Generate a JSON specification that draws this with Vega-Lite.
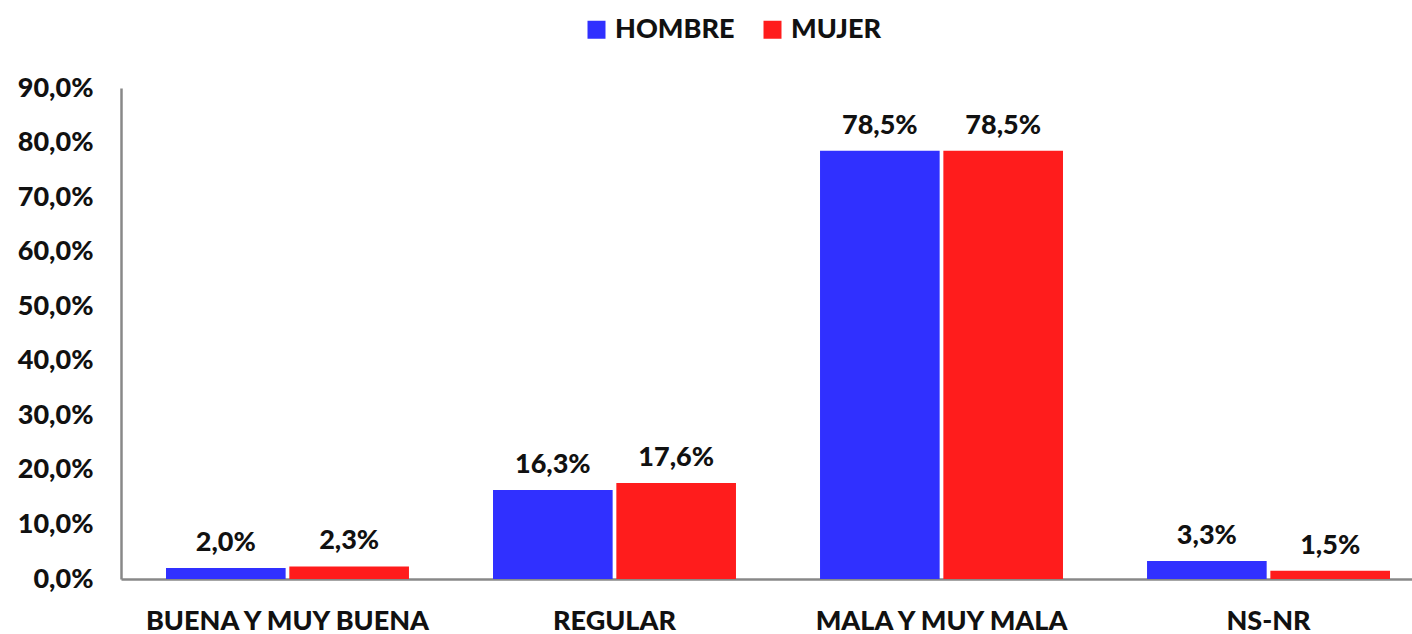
{
  "$schema": "https://vega.github.io/schema/vega-lite/v6.json",
  "autosize": {"type": "none"},
  "width": 1314,
  "height": 491,
  "padding": {"left": 121, "top": 88, "right": 0, "bottom": 55},
  "config": {
    "locale": {"number": {"decimal": ",", "thousands": ".", "grouping": [3], "currency": ["", " €"]}},
    "view": {"stroke": null},
    "font": "Lato"
  },
  "data": {
    "values": [
      {"categoria": "BUENA Y MUY BUENA", "sexo": "HOMBRE", "valor": 0.020},
      {"categoria": "BUENA Y MUY BUENA", "sexo": "MUJER", "valor": 0.023},
      {"categoria": "REGULAR", "sexo": "HOMBRE", "valor": 0.163},
      {"categoria": "REGULAR", "sexo": "MUJER", "valor": 0.176},
      {"categoria": "MALA Y MUY MALA", "sexo": "HOMBRE", "valor": 0.785},
      {"categoria": "MALA Y MUY MALA", "sexo": "MUJER", "valor": 0.785},
      {"categoria": "NS-NR", "sexo": "HOMBRE", "valor": 0.033},
      {"categoria": "NS-NR", "sexo": "MUJER", "valor": 0.015}
    ]
  },
  "encoding": {
    "x": {
      "field": "categoria", "type": "nominal", "sort": null,
      "scale": {"paddingInner": 0.257, "paddingOuter": 0.1376},
      "axis": {"title": null, "labelAngle": 0, "ticks": false, "domainColor": "#888888", "domainWidth": 2.5, "labelLimit": 0,
               "labelFont": "Lato", "labelFontWeight": 900, "labelFontSize": 27, "labelColor": "#111111", "labelPadding": 29}
    },
    "xOffset": {"field": "sexo", "type": "nominal", "sort": ["HOMBRE", "MUJER"], "scale": {"paddingInner": 0.03}},
    "y": {
      "field": "valor", "type": "quantitative",
      "scale": {"domain": [0, 0.9]},
      "axis": {"title": null, "values": [0, 0.1, 0.2, 0.3, 0.4, 0.5, 0.6, 0.7, 0.8, 0.9], "format": ".1%",
               "grid": false, "ticks": false, "domainColor": "#888888", "domainWidth": 2.5,
               "labelFont": "Lato", "labelFontWeight": 900, "labelFontSize": 27, "labelColor": "#111111", "labelPadding": 28}
    }
  },
  "layer": [
    {
      "mark": {"type": "bar"},
      "encoding": {
        "color": {
          "field": "sexo", "type": "nominal",
          "scale": {"domain": ["HOMBRE", "MUJER"], "range": ["#3030FF", "#FF1C1C"]},
          "legend": {"title": null, "orient": "none", "direction": "horizontal", "legendX": 462, "legendY": -72,
                     "symbolType": "square", "symbolSize": 324, "labelFont": "Lato", "labelFontWeight": 900,
                     "labelFontSize": 27, "labelColor": "#111111", "columnPadding": 24, "labelOffset": 5}
        }
      }
    },
    {
      "mark": {"type": "text", "baseline": "alphabetic", "dy": -17, "font": "Lato", "fontWeight": 900, "fontSize": 27, "color": "#111111"},
      "encoding": {"text": {"field": "valor", "type": "quantitative", "format": ".1%"}}
    }
  ]
}
